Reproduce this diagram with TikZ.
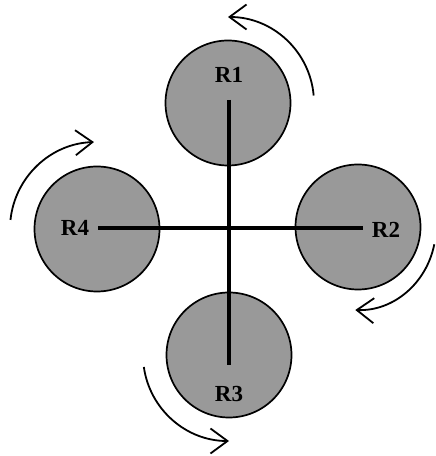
\documentclass[tikz,border=0pt]{standalone}
\usepackage{fontspec}
\setmainfont{Liberation Serif}
\usetikzlibrary{arrows.meta}
\definecolor{rotorfill}{RGB}{153,153,153}
\begin{document}
\begin{tikzpicture}[x=1pt,y=1pt,
  rotor/.style={circle,draw=black,line width=1.7pt,fill=rotorfill,minimum size=125pt,inner sep=0pt},
  rlabel/.style={font=\fontsize{23}{23}\selectfont\bfseries,inner sep=0pt},
  arm/.style={line width=4pt},
  spin/.style={line width=1.8pt,-{Straight Barb[length=17pt,width=25pt,line width=1.8pt]}}]
\useasboundingbox (0,0) rectangle (436,456);
% rotors
\node[rotor] (c1) at (228,353) {};
\node[rotor] (c2) at (358,229) {};
\node[rotor] (c3) at (229,101) {};
\node[rotor] (c4) at (97,227) {};
% frame arms
\coordinate (top) at (229,356);
\coordinate (bot) at (229,91);
\coordinate (lft) at (98,228);
\coordinate (rgt) at (363,228);
\draw[arm] (top) -- (bot);
\draw[arm] (lft) -- (rgt);
% labels
\node[rlabel] (r1) at (229,381) {R1};
\node[rlabel] (r2) at (386,226) {R2};
\node[rlabel] (r3) at (229,62) {R3};
\node[rlabel] (r4) at (75,228) {R4};
% rotation arrows
\draw[spin] (c1.center) ++(5:86) arc[start angle=5,end angle=90,radius=86];
\draw[spin] (c4.center) ++(174:87) arc[start angle=174,end angle=92,radius=87];
\draw[spin] (c2.center) ++(434.3-358,211.7-229) arc[start angle=-12,end angle=-92,x radius=78,y radius=83];
\draw[spin] (c3.center) ++(188:86) arc[start angle=188,end angle=270,radius=86];
\end{tikzpicture}
\end{document}
